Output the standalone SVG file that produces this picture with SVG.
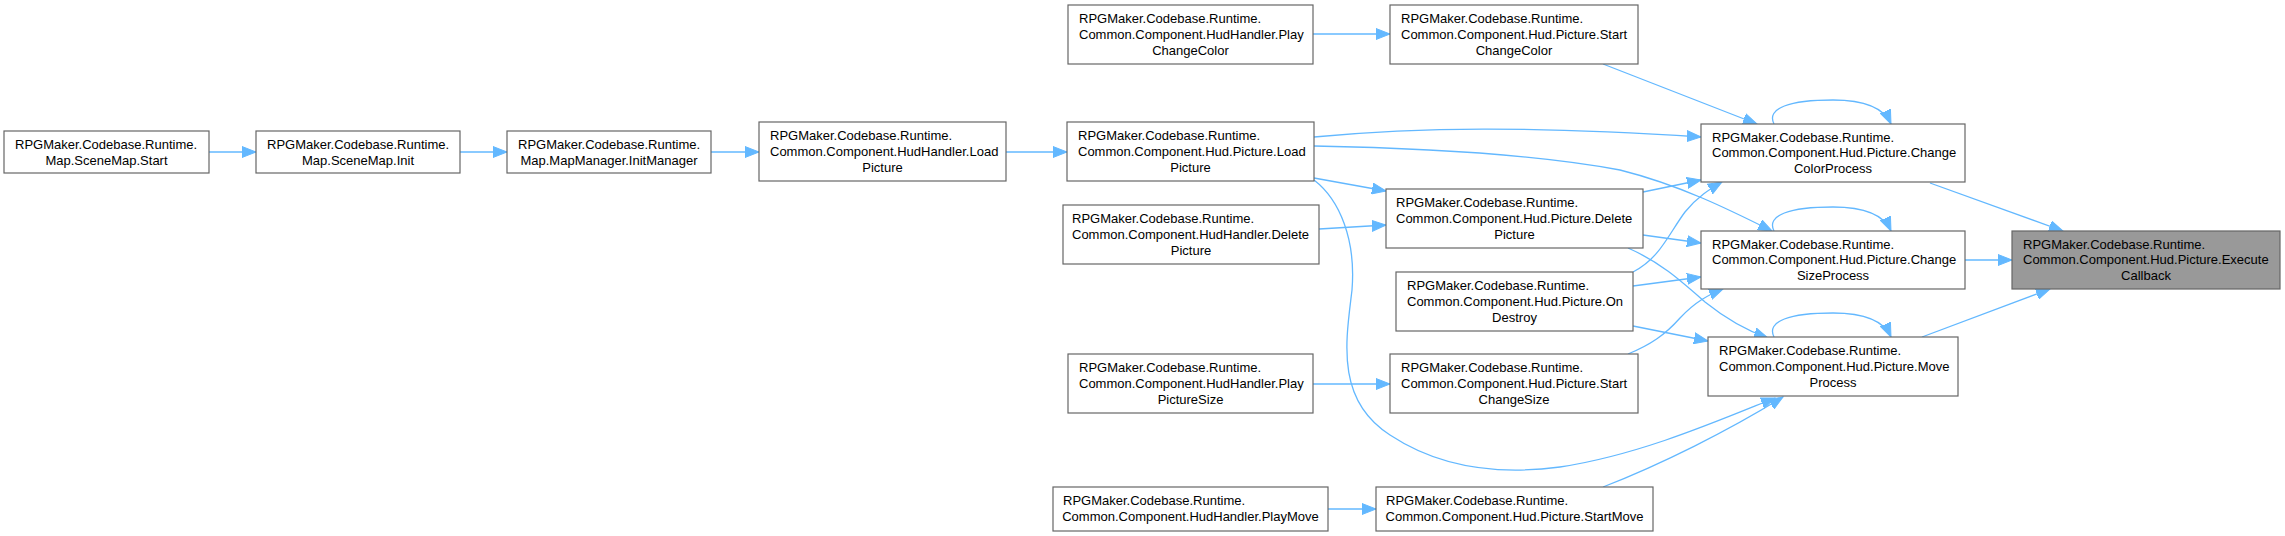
<svg xmlns="http://www.w3.org/2000/svg" width="2285" height="536" viewBox="0 0 2285 536">
<style>
.n rect{fill:#ffffff;stroke:#666666;stroke-width:1.2}
.n.h rect{fill:#999999}
text{font-family:"Liberation Sans",Arial,sans-serif;font-size:13px;fill:#000000}
.c{text-anchor:middle}
.e path{fill:none;stroke:#63b8ff;stroke-width:1.3;marker-end:url(#a)}
</style>
<defs>
<marker id="a" markerUnits="userSpaceOnUse" markerWidth="16" markerHeight="12" refX="14" refY="6" orient="auto" viewBox="0 0 16 12">
<path d="M0,0.5 L14,6 L0,11.5 z" fill="#63b8ff" stroke="#63b8ff" stroke-width="1"/>
</marker>
</defs>
<rect width="2285" height="536" fill="#ffffff"/>
<g class="e" id="edges">
<path d="M209,152 L256,152"/>
<path d="M460,152 L507,152"/>
<path d="M711,152 L759,152"/>
<path d="M1006,152 L1067,152"/>
<path d="M1313,34 L1390,34"/>
<path d="M1319,229 L1386,225"/>
<path d="M1313,384 L1390,384"/>
<path d="M1328,509 L1376,509"/>
<path d="M1314,178 L1386,191"/>
<path d="M1314,137 C1420,127 1530,126 1701,137"/>
<path d="M1314,146 C1420,148 1540,155 1620,170 C1680,185 1730,210 1772,231"/>
<path d="M1603,64 L1757,124"/>
<path d="M1643,192 L1701,180"/>
<path d="M1643,235 L1701,243"/>
<path d="M1628,248 C1660,262 1680,280 1705,302 C1725,318 1745,330 1768,338"/>
<path d="M1633,272 C1660,258 1668,235 1685,212 C1697,197 1710,189 1722,182"/>
<path d="M1633,286 L1701,277"/>
<path d="M1633,326 L1708,341"/>
<path d="M1628,354 C1650,345 1665,335 1680,318 C1695,302 1708,295 1723,289"/>
<path d="M1314,180 C1340,200 1356,240 1352,290 C1346,340 1335,400 1390,435 C1440,468 1500,475 1560,467 C1640,455 1720,420 1775,398"/>
<path d="M1603,487 C1660,465 1730,430 1783,397"/>
<path d="M1930,183 L2063,231"/>
<path d="M1965,260 L2012,260"/>
<path d="M1922,337 L2050,289"/>
<path d="M1774,124 C1766,108 1790,100 1833,100 C1865,100 1884,108 1891,124"/>
<path d="M1774,231 C1766,215 1790,207 1833,207 C1865,207 1884,215 1891,231"/>
<path d="M1774,337 C1766,321 1790,313 1833,313 C1865,313 1884,321 1891,337"/>
</g>
<g class="n" id="n1"><rect x="4" y="131" width="205" height="42"/><text x="15" y="149">RPGMaker.Codebase.Runtime.</text><text class="c" x="106.5" y="165">Map.SceneMap.Start</text></g>
<g class="n" id="n2"><rect x="256" y="131" width="204" height="42"/><text x="267" y="149">RPGMaker.Codebase.Runtime.</text><text class="c" x="358" y="165">Map.SceneMap.Init</text></g>
<g class="n" id="n3"><rect x="507" y="131" width="204" height="42"/><text x="518" y="149">RPGMaker.Codebase.Runtime.</text><text class="c" x="609" y="165">Map.MapManager.InitManager</text></g>
<g class="n" id="n4"><rect x="759" y="122" width="247" height="59"/><text x="770" y="140">RPGMaker.Codebase.Runtime.</text><text x="770" y="156">Common.Component.HudHandler.Load</text><text class="c" x="882.5" y="171.5">Picture</text></g>
<g class="n" id="n5"><rect x="1067" y="122" width="247" height="59"/><text x="1078" y="140">RPGMaker.Codebase.Runtime.</text><text x="1078" y="156">Common.Component.Hud.Picture.Load</text><text class="c" x="1190.5" y="171.5">Picture</text></g>
<g class="n" id="n6"><rect x="1068" y="5" width="245" height="59"/><text x="1079" y="23">RPGMaker.Codebase.Runtime.</text><text x="1079" y="39">Common.Component.HudHandler.Play</text><text class="c" x="1190.5" y="54.5">ChangeColor</text></g>
<g class="n" id="n7"><rect x="1390" y="5" width="248" height="59"/><text x="1401" y="23">RPGMaker.Codebase.Runtime.</text><text x="1401" y="39">Common.Component.Hud.Picture.Start</text><text class="c" x="1514" y="54.5">ChangeColor</text></g>
<g class="n" id="n8"><rect x="1063" y="205" width="256" height="59"/><text x="1072" y="223">RPGMaker.Codebase.Runtime.</text><text x="1072" y="239">Common.Component.HudHandler.Delete</text><text class="c" x="1191" y="254.5">Picture</text></g>
<g class="n" id="n9"><rect x="1386" y="189" width="257" height="59"/><text x="1396" y="207">RPGMaker.Codebase.Runtime.</text><text x="1396" y="223">Common.Component.Hud.Picture.Delete</text><text class="c" x="1514.5" y="238.5">Picture</text></g>
<g class="n" id="n10"><rect x="1396" y="272" width="237" height="59"/><text x="1407" y="290">RPGMaker.Codebase.Runtime.</text><text x="1407" y="306">Common.Component.Hud.Picture.On</text><text class="c" x="1514.5" y="321.5">Destroy</text></g>
<g class="n" id="n11"><rect x="1068" y="354" width="245" height="59"/><text x="1079" y="372">RPGMaker.Codebase.Runtime.</text><text x="1079" y="388">Common.Component.HudHandler.Play</text><text class="c" x="1190.5" y="403.5">PictureSize</text></g>
<g class="n" id="n12"><rect x="1390" y="354" width="248" height="59"/><text x="1401" y="372">RPGMaker.Codebase.Runtime.</text><text x="1401" y="388">Common.Component.Hud.Picture.Start</text><text class="c" x="1514" y="403.5">ChangeSize</text></g>
<g class="n" id="n13"><rect x="1053" y="487" width="275" height="44"/><text x="1063" y="505">RPGMaker.Codebase.Runtime.</text><text class="c" x="1190.5" y="521">Common.Component.HudHandler.PlayMove</text></g>
<g class="n" id="n14"><rect x="1376" y="487" width="277" height="44"/><text x="1386" y="505">RPGMaker.Codebase.Runtime.</text><text class="c" x="1514.5" y="521">Common.Component.Hud.Picture.StartMove</text></g>
<g class="n" id="n15"><rect x="1701" y="124" width="264" height="58"/><text x="1712" y="141.5">RPGMaker.Codebase.Runtime.</text><text x="1712" y="157">Common.Component.Hud.Picture.Change</text><text class="c" x="1833" y="172.5">ColorProcess</text></g>
<g class="n" id="n16"><rect x="1701" y="231" width="264" height="58"/><text x="1712" y="248.5">RPGMaker.Codebase.Runtime.</text><text x="1712" y="264">Common.Component.Hud.Picture.Change</text><text class="c" x="1833" y="279.5">SizeProcess</text></g>
<g class="n" id="n17"><rect x="1708" y="337" width="250" height="59"/><text x="1719" y="355">RPGMaker.Codebase.Runtime.</text><text x="1719" y="371">Common.Component.Hud.Picture.Move</text><text class="c" x="1833" y="386.5">Process</text></g>
<g class="n h" id="n18"><rect x="2012" y="231" width="268" height="58"/><text x="2023" y="248.5">RPGMaker.Codebase.Runtime.</text><text x="2023" y="264">Common.Component.Hud.Picture.Execute</text><text class="c" x="2146" y="279.5">Callback</text></g>
</svg>
